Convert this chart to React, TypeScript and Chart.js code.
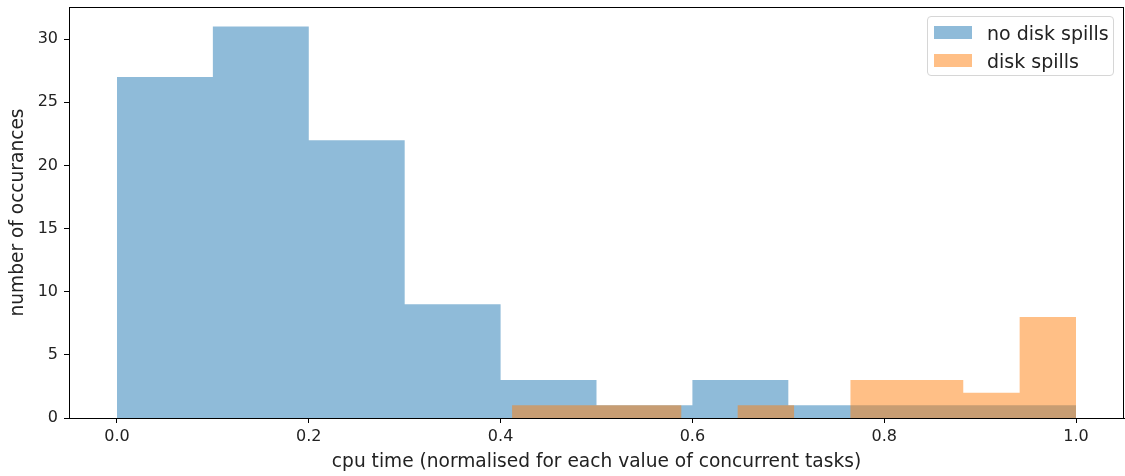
import React, { useEffect, useRef } from "react";
import { Chart, registerables } from "chart.js";

Chart.register(...registerables);

// Histogram bin edges and counts
const blueEdges = [0.0, 0.1, 0.2, 0.3, 0.4, 0.5, 0.6, 0.7, 0.8, 0.9, 1.0];
const blueCounts = [27, 31, 22, 9, 3, 1, 3, 1, 1, 1];
const orangeEdges = [0.412, 0.4708, 0.5296, 0.5884, 0.6472, 0.706, 0.7648, 0.8236, 0.8824, 0.9412, 1.0];
const orangeCounts = [1, 1, 1, 0, 1, 0, 3, 3, 2, 8];

const xTicks = [0.0, 0.2, 0.4, 0.6, 0.8, 1.0];
const yTicks = [0, 5, 10, 15, 20, 25, 30];

const seriesNames = ["no disk spills", "disk spills"];
const BLUE = "rgba(31,119,180,0.5)";
const ORANGE = "rgba(255,127,14,0.5)";
const FONT = "'DejaVu Sans', sans-serif";

function stepPoints(edges: number[], counts: number[]) {
  const pts = counts.map((c, i) => ({ x: edges[i], y: c }));
  pts.push({ x: edges[edges.length - 1], y: counts[counts.length - 1] });
  return pts;
}

const framePlugin = {
  id: "frame",
  afterDraw(chart: any) {
    const { ctx, chartArea } = chart;
    ctx.save();
    ctx.strokeStyle = "#000";
    ctx.lineWidth = 1;
    ctx.strokeRect(
      Math.round(chartArea.left) + 0.5,
      Math.round(chartArea.top) + 0.5,
      Math.round(chartArea.right - chartArea.left) - 1,
      Math.round(chartArea.bottom - chartArea.top)
    );
    ctx.restore();
  },
};

export default function App() {
  const ref = useRef<HTMLCanvasElement | null>(null);

  useEffect(() => {
    if (!ref.current) return;
    const chart = new Chart(ref.current, {
      type: "line",
      data: {
        datasets: [
          {
            label: seriesNames[0],
            data: stepPoints(blueEdges, blueCounts),
            stepped: true,
            fill: "origin",
            backgroundColor: BLUE,
            borderColor: "transparent",
            borderWidth: 0,
            pointRadius: 0,
            order: 2,
          },
          {
            label: seriesNames[1],
            data: stepPoints(orangeEdges, orangeCounts),
            stepped: true,
            fill: "origin",
            backgroundColor: ORANGE,
            borderColor: "transparent",
            borderWidth: 0,
            pointRadius: 0,
            order: 1,
          },
        ],
      },
      options: {
        animation: false,
        responsive: false,
        maintainAspectRatio: false,
        layout: { padding: { top: 7, right: 1, left: 0, bottom: 0 } },
        plugins: { legend: { display: false }, tooltip: { enabled: false } },
        scales: {
          x: {
            type: "linear",
            min: -0.05,
            max: 1.05,
            afterBuildTicks: (s: any) => {
              s.ticks = xTicks.map((v) => ({ value: v }));
            },
            afterFit: (s: any) => {
              s.height = 58;
              s.paddingLeft = 0;
              s.paddingRight = 0;
            },
            grid: { drawOnChartArea: false, drawTicks: true, tickLength: 5, color: "#000" },
            border: { display: true, color: "#000" },
            ticks: {
              color: "#222",
              font: { family: FONT, size: 16 },
              padding: 4,
              maxRotation: 0,
              callback: (v: any) => Number(v).toFixed(1),
            },
            title: {
              display: true,
              text: "cpu time (normalised for each value of concurrent tasks)",
              color: "#222",
              font: { family: FONT, size: 18.6 },
              padding: { top: 0, bottom: 3 },
            },
          },
          y: {
            type: "linear",
            min: 0,
            max: 32.55,
            afterBuildTicks: (s: any) => {
              s.ticks = yTicks.map((v) => ({ value: v }));
            },
            afterFit: (s: any) => {
              s.width = 69;
              s.paddingTop = 0;
              s.paddingBottom = 0;
            },
            grid: { drawOnChartArea: false, drawTicks: true, tickLength: 5, color: "#000" },
            border: { display: true, color: "#000" },
            ticks: {
              color: "#222",
              font: { family: FONT, size: 16 },
              padding: 6,
              callback: (v: any) => String(v),
            },
            title: {
              display: true,
              text: "number of occurances",
              color: "#222",
              font: { family: FONT, size: 18.6 },
              padding: { top: 7, bottom: 0 },
            },
          },
        },
      },
      plugins: [framePlugin],
    });
    return () => chart.destroy();
  }, []);

  const legendItems = [
    { label: seriesNames[0], color: BLUE, top: 26 },
    { label: seriesNames[1], color: ORANGE, top: 54 },
  ];

  return (
    <div style={{ position: "absolute", left: 0, top: 0, width: 1125, height: 476, background: "#fff" }}>
      <canvas ref={ref} width={1125} height={476} style={{ display: "block", width: 1125, height: 476 }} />
      <div
        style={{
          position: "absolute",
          left: 927,
          top: 16,
          width: 187,
          height: 60,
          border: "1px solid #d6d6d6",
          borderRadius: 4,
          background: "rgba(255,255,255,0.8)",
          boxSizing: "border-box",
        }}
      />
      {legendItems.map((it) => (
        <React.Fragment key={it.label}>
          <div
            style={{
              position: "absolute",
              left: 934,
              top: it.top,
              width: 38,
              height: 13,
              background: it.color,
            }}
          />
          <div
            style={{
              position: "absolute",
              left: 987,
              top: it.top + 6.5 - 12,
              height: 24,
              lineHeight: "24px",
              fontFamily: FONT,
              fontSize: 19,
              color: "#222",
              whiteSpace: "nowrap",
            }}
          >
            {it.label}
          </div>
        </React.Fragment>
      ))}
    </div>
  );
}
